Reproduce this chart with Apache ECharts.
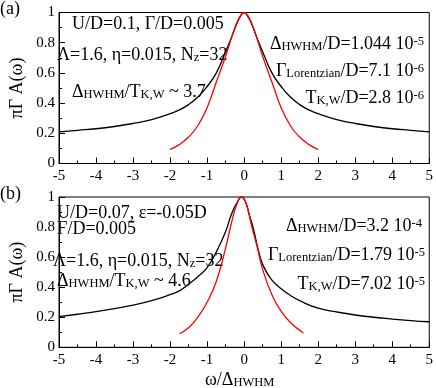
<!DOCTYPE html>
<html>
<head>
<meta charset="utf-8">
<script src="https://cdn.jsdelivr.net/npm/echarts@6/dist/echarts.min.js"></script>
<style>
  html, body { margin: 0; padding: 0; background: #fff; }
  #chart { width: 436px; height: 388px; }
</style>
</head>
<body>
<div id="chart"></div>
<script>
// axis ranges
const xRange = [-5, 5]
const yRange = [0, 1]

// panel (a) - spectral function (black) and lorentzian (red)
const aBlackX = [-5, -4.5, -4, -3.5, -3, -2.5, -2, -1.75, -1.5, -1.25, -1, -0.75, -0.5, -0.35, -0.2, -0.1, 0, 0.1, 0.2, 0.35, 0.5, 0.75, 1, 1.25, 1.5, 1.75, 2, 2.5, 3, 3.5, 4, 4.5, 5]
const aBlackY = [0.21, 0.22, 0.23, 0.245, 0.265, 0.29, 0.33, 0.355, 0.39, 0.44, 0.51, 0.6, 0.74, 0.83, 0.925, 0.975, 1, 0.975, 0.925, 0.83, 0.74, 0.6, 0.51, 0.44, 0.39, 0.355, 0.33, 0.29, 0.265, 0.245, 0.23, 0.22, 0.21]
const aRedX = [-2, -1.75, -1.5, -1.25, -1, -0.75, -0.5, -0.25, -0.1, 0, 0.1, 0.25, 0.5, 0.75, 1, 1.25, 1.5, 1.75, 2]
const aRedY = [0.094, 0.125, 0.175, 0.25, 0.37, 0.54, 0.71, 0.9, 0.98, 1, 0.98, 0.9, 0.71, 0.54, 0.37, 0.25, 0.175, 0.125, 0.094]

// panel (b)
const bBlackX = [-5, -4.5, -4, -3.5, -3, -2.5, -2, -1.75, -1.5, -1.25, -1, -0.75, -0.5, -0.35, -0.2, -0.07, 0.05, 0.13, 0.26, 0.38, 0.52, 0.74, 1, 1.25, 1.5, 2, 2.5, 3, 3.5, 4, 4.5, 5]
const bBlackY = [0.204, 0.22, 0.237, 0.257, 0.28, 0.31, 0.35, 0.375, 0.42, 0.47, 0.53, 0.635, 0.77, 0.88, 0.96, 1, 0.96, 0.89, 0.78, 0.65, 0.54, 0.45, 0.39, 0.345, 0.31, 0.26, 0.235, 0.215, 0.2, 0.188, 0.178, 0.17]
const bRedX = [-1.75, -1.5, -1.25, -1, -0.75, -0.5, -0.35, -0.2, -0.07, 0.05, 0.2, 0.35, 0.5, 0.75, 1, 1.25, 1.6]
const bRedY = [0.09, 0.13, 0.2, 0.3, 0.44, 0.66, 0.82, 0.95, 1, 0.96, 0.81, 0.67, 0.52, 0.35, 0.24, 0.165, 0.095]

const FONT = 'Liberation Serif'

function zip(xs, ys) {
    return xs.map((x, i) => [x, ys[i]])
}

// rich styles for sub / superscripts
const rich = {
    n: { fontFamily: FONT, fontSize: 18, lineHeight: 18, verticalAlign: 'top', color: '#000' },
    sub: { fontFamily: FONT, fontSize: 12.5, lineHeight: 12, padding: [17, 0, 0, 0], verticalAlign: 'bottom', color: '#000' },
    sub2: { fontFamily: FONT, fontSize: 12.5, lineHeight: 12, padding: [11, 0, 0, 0], verticalAlign: 'bottom', color: '#000' },
    sup: { fontFamily: FONT, fontSize: 12.5, lineHeight: 5, verticalAlign: 'top', color: '#000' }
}

function label(text, pos) {
    return Object.assign({
        type: 'text',
        style: { text: text, rich: rich, fill: '#000' }
    }, pos)
}

function xAxisCfg(gridIndex) {
    return {
        type: 'value',
        gridIndex: gridIndex,
        min: xRange[0],
        max: xRange[1],
        interval: 1,
        axisLine: { onZero: false, lineStyle: { color: '#000', width: 1 } },
        axisTick: { inside: true, length: 6, lineStyle: { color: '#000' } },
        minorTick: { show: true, splitNumber: 2, length: 3, lineStyle: { color: '#000' } },
        splitLine: { show: false },
        axisLabel: { color: '#000', fontFamily: FONT, fontSize: 15, margin: 5, showMinLabel: true, showMaxLabel: true, hideOverlap: false }
    }
}

function yAxisCfg(gridIndex) {
    return {
        type: 'value',
        gridIndex: gridIndex,
        min: yRange[0],
        max: yRange[1],
        interval: 0.2,
        name: 'πΓ A(ω)',
        nameLocation: 'middle',
        nameGap: 33,
        nameMoveOverlap: false,
        nameTextStyle: { color: '#000', fontFamily: FONT, fontSize: 18 },
        axisLine: { onZero: false, lineStyle: { color: '#000', width: 1 } },
        axisTick: { inside: true, length: 6, lineStyle: { color: '#000' } },
        minorTick: { show: true, splitNumber: 2, length: 3, lineStyle: { color: '#000' } },
        splitLine: { show: false },
        axisLabel: { color: '#000', fontFamily: FONT, fontSize: 15, margin: 4, hideOverlap: false, formatter: v => String(Math.round(v * 10) / 10) }
    }
}

function lineSeries(data, color, idx) {
    return {
        type: 'line',
        xAxisIndex: idx,
        yAxisIndex: idx,
        data: data,
        showSymbol: false,
        smooth: 0.5,
        lineStyle: { color: color, width: 1.3 },
        z: color === '#ff0000' ? 3 : 2
    }
}

let chart = echarts.init(document.getElementById('chart'))
let option = {
    animation: false,
    backgroundColor: '#fff',
    grid: [
        { left: 50, right: 4, top: 12.5, height: 151, show: true, borderColor: '#000', borderWidth: 1 },
        { left: 50, right: 4, top: 197, height: 150.3, show: true, borderColor: '#000', borderWidth: 1 }
    ],
    xAxis: [xAxisCfg(0), xAxisCfg(1)],
    yAxis: [yAxisCfg(0), yAxisCfg(1)],
    series: [
        lineSeries(zip(aBlackX, aBlackY), '#000', 0),
        lineSeries(zip(aRedX, aRedY), '#ff0000', 0),
        lineSeries(zip(bBlackX, bBlackY), '#000', 1),
        lineSeries(zip(bRedX, bRedY), '#ff0000', 1)
    ],
    graphic: [
        label('{n|(a)}', { left: 0, top: 0 }),
        label('{n|(b)}', { left: 0, top: 185 }),
        // panel (a) parameters
        label('{n|U/D=0.1, Γ/D=0.005}', { left: 72, top: 15 }),
        label('{n|Λ=1.6, η=0.015, N}{sub|z}{n|=32}', { left: 57, top: 34.5 }),
        label('{n|Δ}{sub|HWHM}{n|/T}{sub|K,W}{n| ~ 3.7}', { left: 72, top: 71 }),
        label('{n|Δ}{sub|HWHM}{n|/D=1.044 10}{sup|-5}', { right: 12, top: 23 }),
        label('{n|Γ}{sub|Lorentzian}{n|/D=7.1 10}{sup|-6}', { right: 12, top: 50 }),
        label('{n|T}{sub|K,W}{n|/D=2.8 10}{sup|-6}', { right: 12, top: 77 }),
        // panel (b) parameters
        label('{n|U/D=0.07, ε=-0.05D}', { left: 57, top: 204 }),
        label('{n|Γ/D=0.005}', { left: 57, top: 220.5 }),
        label('{n|Λ=1.6, η=0.015, N}{sub|z}{n|=32}', { left: 53, top: 240.5 }),
        label('{n|Δ}{sub|HWHM}{n|/T}{sub|K,W}{n| ~ 4.6}', { left: 57, top: 260.5 }),
        label('{n|Δ}{sub|HWHM}{n|/D=3.2 10}{sup|-4}', { right: 14, top: 205 }),
        label('{n|Γ}{sub|Lorentzian}{n|/D=1.79 10}{sup|-5}', { right: 11, top: 234.5 }),
        label('{n|T}{sub|K,W}{n|/D=7.02 10}{sup|-5}', { right: 11, top: 263 }),
        // x axis title
        label('{n|ω/Δ}{sub2|HWHM}', { left: 205, top: 365 })
    ]
}
chart.setOption(option)
</script>
</body>
</html>
